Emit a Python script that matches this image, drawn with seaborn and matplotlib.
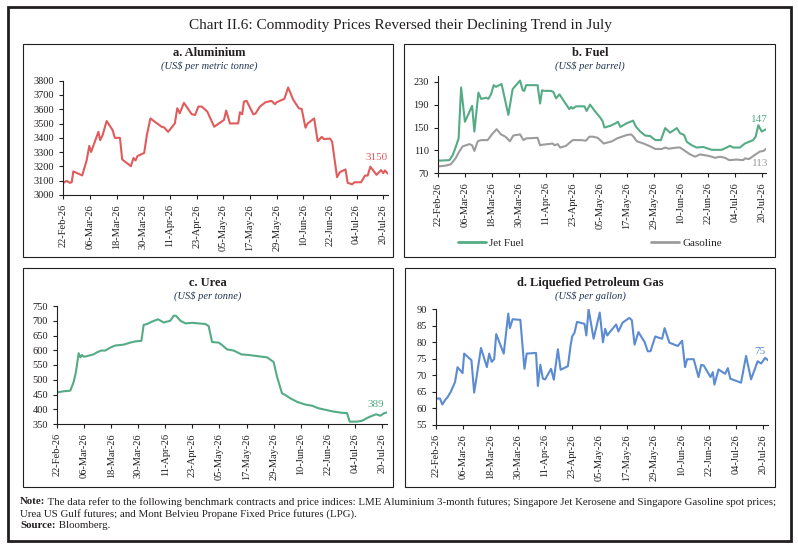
"""Chart II.6 : commodity prices (aluminium, fuel, urea, LPG) - 2x2 panels."""
import matplotlib
matplotlib.use("Agg")
import matplotlib.pyplot as plt
from matplotlib.lines import Line2D
from matplotlib.patches import Rectangle
import numpy as np
import seaborn as sns

# ---------------------------------------------------------------- data
tick_labels = ["22-Feb-26", "06-Mar-26", "18-Mar-26", "30-Mar-26", "11-Apr-26",
               "23-Apr-26", "05-May-26", "17-May-26", "29-May-26", "10-Jun-26",
               "22-Jun-26", "04-Jul-26", "20-Jul-26"]

# days counted from 22-Feb-26
alu_days = [0, 1.5, 3, 3.8, 4.5, 8.5, 10.5, 11.7, 12.5, 15.8,
            16.6, 17.7, 19.5, 22.2, 23.2, 25.5, 26.5, 30.4, 31.6, 32.5,
            33.4, 36.4, 37.6, 39.2, 44.2, 45.4, 47.2, 50.2, 51.3, 52.4,
            54.3, 57.8, 59.3, 60.8, 62.3, 64.8, 67.9, 72.3, 73.3, 75,
            78.7, 79.5, 80.5, 81.3, 82.5, 85.5, 86.5, 88.5, 91, 93.7,
            95.3, 96, 99.5, 101.2, 103.5, 106, 107.3, 109, 110, 112.9,
            114.5, 116.3, 117.3, 120, 121, 123.2, 124.5, 127, 128, 130,
            131, 134, 135.8, 137, 138.2, 141, 143, 144, 144.8, 146]
alu_vals = [3085, 3099, 3085, 3090, 3165, 3137, 3242, 3344, 3301, 3442,
            3384, 3419, 3518, 3454, 3400, 3400, 3249, 3202, 3259, 3242,
            3273, 3294, 3419, 3536, 3478, 3473, 3442, 3501, 3607, 3572,
            3645, 3565, 3560, 3619, 3619, 3584, 3478, 3525, 3591, 3501,
            3501, 3579, 3565, 3654, 3659, 3565, 3570, 3619, 3649, 3659,
            3635, 3649, 3673, 3753, 3666, 3607, 3602, 3471, 3501, 3536,
            3376, 3407, 3391, 3395, 3372, 3125, 3160, 3179, 3085, 3075,
            3089, 3089, 3136, 3136, 3198, 3141, 3174, 3153, 3172, 3150]

jet_days = [0, 5.2, 6.7, 8.1, 9.3, 10.4, 12.1, 15.3, 16.3, 18.1,
            19.3, 21.5, 22.5, 23.7, 24.9, 25.9, 28.4, 31.4, 33.3, 36.6,
            37.8, 38.5, 39.3, 44.4, 45.5, 46.4, 47.4, 50.4, 51.4, 52.6,
            54.1, 56.3, 58.5, 59.3, 60, 61.5, 65.2, 66.2, 67.7, 70,
            72.3, 73.3, 74.1, 76.7, 78.9, 80.1, 81.2, 83.8, 86.8, 88.2,
            90, 92.2, 94.5, 96.7, 99.2, 101.1, 103.3, 106.3, 107.7, 109.5,
            110.7, 112.9, 115.1, 118, 119.5, 121.8, 126.2, 128.4, 129.9, 131.4,
            134.3, 136.5, 140.2, 141.3, 142.5, 144, 146]
jet_vals = [92, 93, 102, 117, 131, 220, 160, 188, 143, 211,
            200, 202, 200, 208, 224, 221, 226, 172, 217, 232,
            215, 214, 224, 224, 192, 215, 214, 214, 212, 201,
            208, 195, 182, 186, 183, 187, 187, 179, 190, 178,
            167, 161, 150, 153, 157, 160, 151, 157, 162, 151,
            143, 136, 135, 128, 128, 149, 141, 149, 140, 137,
            125, 119, 115, 116, 114, 111, 111, 115, 118, 115,
            115, 122, 128, 134, 154, 143, 147]

gas_days = [0, 3.7, 5.9, 7.9, 9.6, 11.1, 14.1, 15.3, 16.3, 17.8,
            19.3, 22.2, 24.1, 26.2, 28.1, 30.1, 31.1, 32.1, 33.6, 36.6,
            38.1, 39.3, 44.4, 45.5, 46.7, 51.1, 51.9, 53.3, 54.5, 57,
            60, 63.7, 65.9, 67.4, 68.9, 71.1, 73.8, 77.5, 79.7, 81.9,
            84.1, 86, 87, 88.5, 91.5, 94.5, 96.7, 99.6, 101.1, 102.6,
            106.3, 107.7, 109.2, 112.2, 114.4, 116.6, 119.6, 121.8, 123.3, 125.5,
            127.7, 129.6, 132.9, 135.8, 136.5, 138.4, 140.9, 143.2, 144.7, 146]
gas_vals = [82, 83.5, 86, 96, 108, 117, 121, 119, 109, 126,
            128, 128, 138, 147, 138, 134, 130, 126, 136, 138,
            128, 131, 132, 119, 120, 122, 119, 121, 115, 118,
            128, 128, 127, 134, 134, 132, 122, 126, 131, 134,
            137, 138, 134, 126, 122, 117, 112.5, 112.5, 115, 113,
            115, 115, 111, 103, 99, 103, 101, 99, 97, 99,
            97, 93, 94, 93, 96, 95, 102, 108, 109, 113]

urea_days = [0, 3, 5.9, 7.4, 8.4, 9.6, 10.4, 11.1, 11.8, 13.2,
             16.2, 17.7, 19.6, 21.4, 23.6, 25.8, 29.5, 32.5, 34.7, 37.4,
             38.4, 39.9, 42.1, 44.8, 47.3, 50.2, 51.7, 52.7, 54.7, 56.9,
             59.8, 62.8, 65.7, 67.2, 68.7, 71.6, 73.1, 75.3, 78.3, 81.7,
             84.9, 87.9, 90.8, 93.1, 96, 97.5, 99.7, 101.2, 103.4, 106.4,
             110, 113, 116, 119.6, 122.6, 126.3, 128.5, 129.7, 132.9, 135.2,
             138.1, 141.4, 143.3, 144.8, 146]
urea_vals = [457, 461, 463, 493, 527, 590, 576, 584, 578, 580,
             586, 593, 599, 599, 609, 616, 619, 626, 630, 632,
             686, 689, 697, 705, 694, 700, 717, 717, 700, 691,
             693, 691, 689, 682, 628, 626, 618, 603, 599, 586,
             584, 581, 578, 576, 560, 510, 454, 448, 437, 425,
             416, 412, 403, 397, 392, 388, 387, 358, 358, 361,
             373, 383, 378, 386, 389]

lpg_days = [0, 1.9, 2.9, 4.4, 5.1, 6.6, 8.5, 9.6, 11.8, 12.5,
            15.7, 16.9, 17.9, 19.9, 22.5, 23.5, 24.6, 25.7, 26.6, 29.9,
            31.9, 32.6, 33.8, 37.2, 39, 40, 44.1, 44.9, 46, 47.1,
            48.1, 50.7, 51.9, 53.7, 54.9, 58.1, 59.3, 60, 61, 62.1,
            65.4, 66.2, 67.2, 69.4, 72.1, 73.5, 74.5, 75.4, 77.1, 79.3,
            80.3, 82.2, 85.1, 86.2, 87.4, 89.1, 91.8, 93.2, 94.4, 96.5,
            98.4, 99.5, 100.6, 102.7, 106.4, 108.3, 109.6, 110.5, 113.4, 115.5,
            116.7, 117.8, 120.8, 121.8, 122.5, 124.3, 127.2, 128.4, 129.5, 134.2,
            136.4, 138.6, 141.5, 143, 144.8, 146]
lpg_vals = [63, 63, 61.2, 62.8, 63.3, 65, 68, 72.5, 70.7, 76.6,
            74.6, 64.8, 69.2, 78.3, 72.5, 76.6, 74.1, 74.9, 82.5, 76.6,
            88.7, 84.3, 87, 86.8, 72, 76.6, 76.8, 66.8, 73.2, 69,
            68.8, 72, 68.7, 77.9, 71.7, 72.8, 79.1, 81.8, 82.9, 86.2,
            85.6, 82.1, 90, 81.1, 89, 80, 84.1, 82.1, 83.6, 85.4,
            83.3, 86, 87.4, 86.7, 79.3, 83.1, 80.1, 77.3, 77.3, 81.8,
            81.3, 81.1, 84.3, 79.9, 78.9, 80.5, 72.5, 74.9, 74.9, 69.5,
            73.2, 73, 69.5, 71, 67.2, 71.8, 70.5, 72.2, 69, 67.8,
            75.9, 68.8, 74.3, 73.6, 75.3, 74.6]

RED = "#e05c5c"
GREEN = "#55ab85"
GREY = "#9c9c9c"
BLUE = "#5b8bd2"
NAVY = "#1f3550"
INK = "#231f20"

W, H = 798, 549


def rect(x0, y0, x1, y1):
    """pixel box (y from top) -> figure fraction [l, b, w, h]"""
    return [x0 / W, 1 - y1 / H, (x1 - x0) / W, (y1 - y0) / H]


def style(ax, ylim, yticks):
    ax.set_xlim(0, 146)
    ax.set_ylim(*ylim)
    ax.set_yticks(yticks)
    ax.set_xticks(np.arange(0, 145, 12))
    ax.set_xticklabels(tick_labels, rotation=90)
    ax.set_xlabel("")
    ax.set_ylabel("")
    sns.despine(ax=ax)
    for s in ("left", "bottom"):
        ax.spines[s].set_color(INK)
        ax.spines[s].set_linewidth(0.8)
    ax.tick_params(bottom=True, left=True, direction="out", length=3, width=0.8,
                   colors=INK, labelsize=7.5, pad=3.5)


def end_label(ax, days, vals, color, dx, dy):
    ax.annotate(f"{vals[-1]:.0f}", xy=(days[-1], vals[-1]), xytext=(dx, dy),
                textcoords="offset points", color=color, fontsize=8,
                ha="center", va="center")


def main():
    sns.set_theme(style="white")
    plt.rcParams["font.family"] = ["Liberation Serif", "DejaVu Serif"]

    fig = plt.figure(figsize=(W / 100, H / 100), dpi=100)

    # cadres
    fig.add_artist(Rectangle((8 / W, 1 - 541 / H), 783 / W, 534 / H, transform=fig.transFigure,
                             fill=False, lw=2, ec=INK))
    for x0, y0, x1, y1 in [(23, 44, 393, 257), (404, 44, 775, 257),
                           (23, 268, 393, 487), (405, 268, 775, 487)]:
        fig.add_artist(Rectangle((x0 / W, 1 - y1 / H), (x1 - x0) / W, (y1 - y0) / H,
                                 transform=fig.transFigure, fill=False, lw=0.8, ec=INK))

    fig.text(400 / W, 1 - 25 / H, "Chart II.6: Commodity Prices Reversed their Declining Trend in July",
             ha="center", va="center", fontsize=11, color=INK)

    # a. Aluminium
    ax = fig.add_axes(rect(63.3, 80.7, 387.7, 195))
    sns.lineplot(x=alu_days, y=alu_vals, ax=ax, color=RED, lw=1.5)
    style(ax, (3000, 3800), np.arange(3000, 3801, 100))
    end_label(ax, alu_days, alu_vals, RED, -8, 11.5)

    # b. Fuel
    ax = fig.add_axes(rect(437.7, 76, 766.2, 173.3))
    sns.lineplot(x=jet_days, y=jet_vals, ax=ax, color=GREEN, lw=1.5)
    sns.lineplot(x=gas_days, y=gas_vals, ax=ax, color=GREY, lw=1.5)
    style(ax, (70, 240), np.arange(70, 231, 40))
    end_label(ax, jet_days, jet_vals, GREEN, -5, 7)
    end_label(ax, gas_days, gas_vals, GREY, -4, -11)
    handles = [Line2D([], [], color=GREEN, lw=2), Line2D([], [], color=GREY, lw=2)]
    fig.legend(handles, ["Jet Fuel", "Gasoline"], loc="center",
               bbox_to_anchor=(590 / W, 1 - 243 / H), ncol=2, frameon=False,
               fontsize=8, handlelength=2.5, handletextpad=0.3, columnspacing=11.5)

    # c. Urea
    ax = fig.add_axes(rect(57, 306, 386.5, 424))
    sns.lineplot(x=urea_days, y=urea_vals, ax=ax, color=GREEN, lw=1.5)
    style(ax, (350, 750), np.arange(350, 751, 50))
    end_label(ax, urea_days, urea_vals, GREEN, -8, 6)

    # d. LPG
    ax = fig.add_axes(rect(435.7, 309.3, 767.9, 425))
    sns.lineplot(x=lpg_days, y=lpg_vals, ax=ax, color=BLUE, lw=1.5)
    style(ax, (55, 90), np.arange(55, 91, 5))
    end_label(ax, lpg_days, lpg_vals, BLUE, -6, 6)

    # titres des panneaux
    for x, y, title, unit in [(209, 53, "a. Aluminium", "(US$ per metric tonne)"),
                              (590, 53, "b. Fuel", "(US$ per barrel)"),
                              (208, 283, "c. Urea", "(US$ per tonne)"),
                              (590, 283, "d. Liquefied Petroleum Gas", "(US$ per gallon)")]:
        fig.text(x / W, 1 - y / H, title, ha="center", va="center", fontsize=9,
                 fontweight="bold", color=INK)
        fig.text(x / W, 1 - (y + 13) / H, unit, ha="center", va="center", fontsize=7.5,
                 style="italic", color=NAVY)

    # note + source
    fig.canvas.draw()
    r = fig.canvas.get_renderer()
    lines = [("Note:", " The data refer to the following benchmark contracts and price indices: "
                       "LME Aluminium 3-month futures; Singapore Jet Kerosene and Singapore "
                       "Gasoline spot prices;", 502),
             ("", "Urea US Gulf futures; and Mont Belvieu Propane Fixed Price futures (LPG).", 514),
             ("Source:", " Bloomberg.", 526)]
    for bold, rest, y in lines:
        x = 20 / W
        if bold:
            t = fig.text(x, 1 - y / H, bold, fontsize=7.8, fontweight="bold", va="center", color=INK)
            x += t.get_window_extent(r).width / W
        fig.text(x, 1 - y / H, rest, fontsize=7.8, va="center", color=INK)

    fig.savefig("out.png", dpi=100)
    plt.close(fig)


if __name__ == "__main__":
    main()
